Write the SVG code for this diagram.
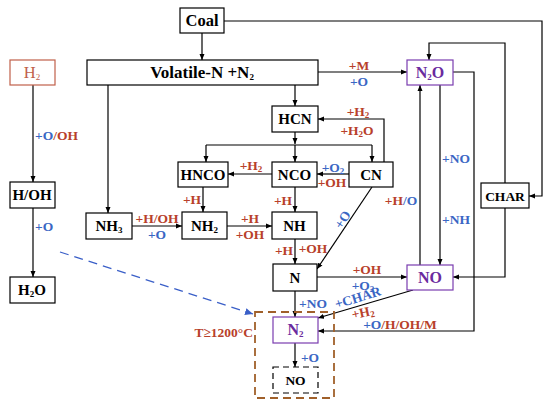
<svg xmlns="http://www.w3.org/2000/svg" width="550" height="409" viewBox="0 0 550 409">
<defs>
<marker id="ah" markerWidth="6" markerHeight="6" refX="6" refY="3" orient="auto" markerUnits="userSpaceOnUse"><path d="M0,0.5 L6,3 L0,5.5 z" fill="#000"/></marker>
<marker id="ahb" markerWidth="8" markerHeight="8" refX="8" refY="4" orient="auto" markerUnits="userSpaceOnUse"><path d="M0,0.5 L8,4 L0,7.5 z" fill="#3a5fc8"/></marker>
<style>
.box{fill:#fff;stroke:#000;stroke-width:1.2}
.pur{fill:#fff;stroke:#7a3cb0;stroke-width:1.2}
.t{font-family:"Liberation Serif",serif;font-weight:bold;font-size:15px;text-anchor:middle;fill:#000}
.tp{fill:#6a2a9e}
.l{font-family:"Liberation Serif",serif;font-weight:bold;font-size:13.5px;text-anchor:middle}
.r{fill:#b8402a}
.b{fill:#3a66c4}
.c{fill:none;stroke:#000;stroke-width:1.2;marker-end:url(#ah)}
.cn{fill:none;stroke:#000;stroke-width:1.2}
.s{font-size:9px}
</style>
</defs>
<g id="connectors">
<path class="c" d="M202,33 V60"/>
<path class="c" d="M224,21 H542 V196 H529"/>
<path class="c" d="M295,85 V106"/>
<path class="c" d="M108,85 V213"/>
<path class="c" d="M318,72 H407"/>
<path class="c" d="M33,85 V182"/>
<path class="c" d="M33,208 V277"/>
<path class="c" d="M295,132 V144"/>
<path class="cn" d="M206,145 H372"/>
<path class="c" d="M206,145 V162"/>
<path class="c" d="M295,145 V162"/>
<path class="c" d="M372,145 V162"/>
<path class="c" d="M384,162 V119 H318"/>
<path class="c" d="M349,174 H317"/>
<path class="c" d="M272,174 H228"/>
<path class="c" d="M203,187 V212"/>
<path class="c" d="M295,187 V212"/>
<path class="c" d="M132,226 H182"/>
<path class="c" d="M227,226 H272"/>
<path class="c" d="M295,239 V264"/>
<path class="c" d="M372,187 L317,269"/>
<path class="c" d="M317,277 H407"/>
<path class="c" d="M420,265 V85"/>
<path class="c" d="M440,85 V265"/>
<path class="c" d="M505,183 V43 H429 V60"/>
<path class="c" d="M505,208 V277 H453"/>
<path class="c" d="M453,72 H474 V331 H318"/>
<path class="c" d="M295,291 V317"/>
<path class="c" d="M413,290 L318,318"/>
<path class="c" d="M295,343 V367"/>
<path fill="none" stroke="#3a5fc8" stroke-width="1.3" stroke-dasharray="9,6" marker-end="url(#ahb)" d="M60,252 L253,314"/>
</g>
<g id="zone-t1200">
<rect x="255" y="312" width="79" height="86" fill="none" stroke="#a0602a" stroke-width="1.8" stroke-dasharray="8,5"/>
<text class="l r" x="253" y="337" style="text-anchor:end">T≥1200°C</text>
</g>
<g id="coal"><rect class="box" x="180" y="8" width="44" height="25"/><text class="t" x="202" y="26" style="font-size:16.5px">Coal</text></g>
<g id="volatile"><rect class="box" x="87" y="60" width="231" height="25"/><text class="t" x="202" y="78" style="font-size:17px">Volatile-N +N<tspan class="s" dy="2">2</tspan></text></g>
<g id="h2"><rect x="10" y="60" width="45" height="25" fill="#fff" stroke="#c0604a" stroke-width="1.2"/><text class="t" x="32" y="78" style="fill:#c0604a;font-weight:normal;font-size:16.5px">H<tspan class="s" dy="2">2</tspan></text></g>
<g id="hoh"><rect class="box" x="10" y="182" width="45" height="26"/><text class="t" x="32" y="200">H/OH</text></g>
<g id="h2o"><rect class="box" x="10" y="277" width="45" height="26"/><text class="t" x="32" y="295">H<tspan class="s" dy="2">2</tspan><tspan dy="-2">O</tspan></text></g>
<g id="n2o"><rect class="pur" x="407" y="60" width="46" height="25"/><text class="t tp" x="430" y="78" style="font-size:16px">N<tspan class="s" dy="2">2</tspan><tspan dy="-2">O</tspan></text></g>
<g id="hcn"><rect class="box" x="272" y="106" width="46" height="26"/><text class="t" x="295" y="124">HCN</text></g>
<g id="hnco"><rect class="box" x="178" y="162" width="50" height="25"/><text class="t" x="203" y="180">HNCO</text></g>
<g id="nco"><rect class="box" x="272" y="162" width="45" height="25"/><text class="t" x="294.5" y="180">NCO</text></g>
<g id="cn"><rect class="box" x="349" y="162" width="44" height="25"/><text class="t" x="371" y="180">CN</text></g>
<g id="nh3"><rect class="box" x="86" y="213" width="46" height="26"/><text class="t" x="109" y="231">NH<tspan class="s" dy="2">3</tspan></text></g>
<g id="nh2"><rect class="box" x="182" y="212" width="45" height="27"/><text class="t" x="204.5" y="231">NH<tspan class="s" dy="2">2</tspan></text></g>
<g id="nh"><rect class="box" x="272" y="212" width="45" height="27"/><text class="t" x="294.5" y="231">NH</text></g>
<g id="char"><rect class="box" x="481" y="183" width="48" height="25"/><text class="t" x="505" y="201" style="font-size:13.5px">CHAR</text></g>
<g id="n"><rect class="box" x="273" y="264" width="44" height="27"/><text class="t" x="295" y="283">N</text></g>
<g id="no"><rect class="pur" x="407" y="265" width="46" height="25"/><text class="t tp" x="430" y="283" style="font-size:16px">NO</text></g>
<g id="n2"><rect class="pur" x="273" y="317" width="45" height="26"/><text class="t tp" x="295.5" y="335" style="font-size:16px">N<tspan class="s" dy="2">2</tspan></text></g>
<g id="no-dashed"><rect x="273" y="367" width="45" height="26" fill="#fff" stroke="#000" stroke-width="1.2" stroke-dasharray="6,4"/><text class="t" x="295.5" y="385" style="font-size:13.5px">NO</text></g>
<g id="labels">
<text class="l" x="35" y="140" style="text-anchor:start"><tspan class="b">+O</tspan><tspan class="r">/OH</tspan></text>
<text class="l b" x="35" y="231" style="text-anchor:start">+O</text>
<text class="l r" x="359" y="70">+M</text>
<text class="l b" x="359" y="86">+O</text>
<text class="l r" x="358" y="116">+H<tspan class="s" dy="2">2</tspan></text>
<text class="l r" x="357" y="135">+H<tspan class="s" dy="2">2</tspan><tspan dy="-2">O</tspan></text>
<text class="l b" x="333" y="172">+O<tspan class="s" dy="2">2</tspan></text>
<text class="l r" x="332" y="187">+OH</text>
<text class="l r" x="251" y="170">+H<tspan class="s" dy="2">2</tspan></text>
<text class="l r" x="192" y="204">+H</text>
<text class="l r" x="283" y="205">+H</text>
<text class="l r" x="157" y="223">+H/OH</text>
<text class="l b" x="157" y="239">+O</text>
<text class="l r" x="250" y="223">+H</text>
<text class="l r" x="250" y="239">+OH</text>
<text class="l r" x="284" y="255">+H</text>
<text class="l r" x="313" y="253">+OH</text>
<text class="l b" transform="translate(343,220) rotate(-58)" x="0" y="4">+O</text>
<text class="l" x="401" y="205"><tspan class="r">+H</tspan><tspan class="b">/O</tspan></text>
<text class="l b" x="456" y="163">+NO</text>
<text class="l b" x="456" y="224">+NH</text>
<text class="l r" x="367" y="274">+OH</text>
<text class="l b" x="313" y="308">+NO</text>
<text class="l b" x="363" y="290">+O<tspan class="s" dy="2">2</tspan></text>
<text class="l b" transform="translate(358,298) rotate(-17)" x="0" y="4">+CHAR</text>
<text class="l r" transform="translate(363,313) rotate(-12)" x="0" y="4">+H<tspan class="s" dy="2">2</tspan></text>
<text class="l" x="400" y="329"><tspan class="b">+O</tspan><tspan class="r">/H/OH/M</tspan></text>
<text class="l b" x="310" y="362">+O</text>
</g>
</svg>
